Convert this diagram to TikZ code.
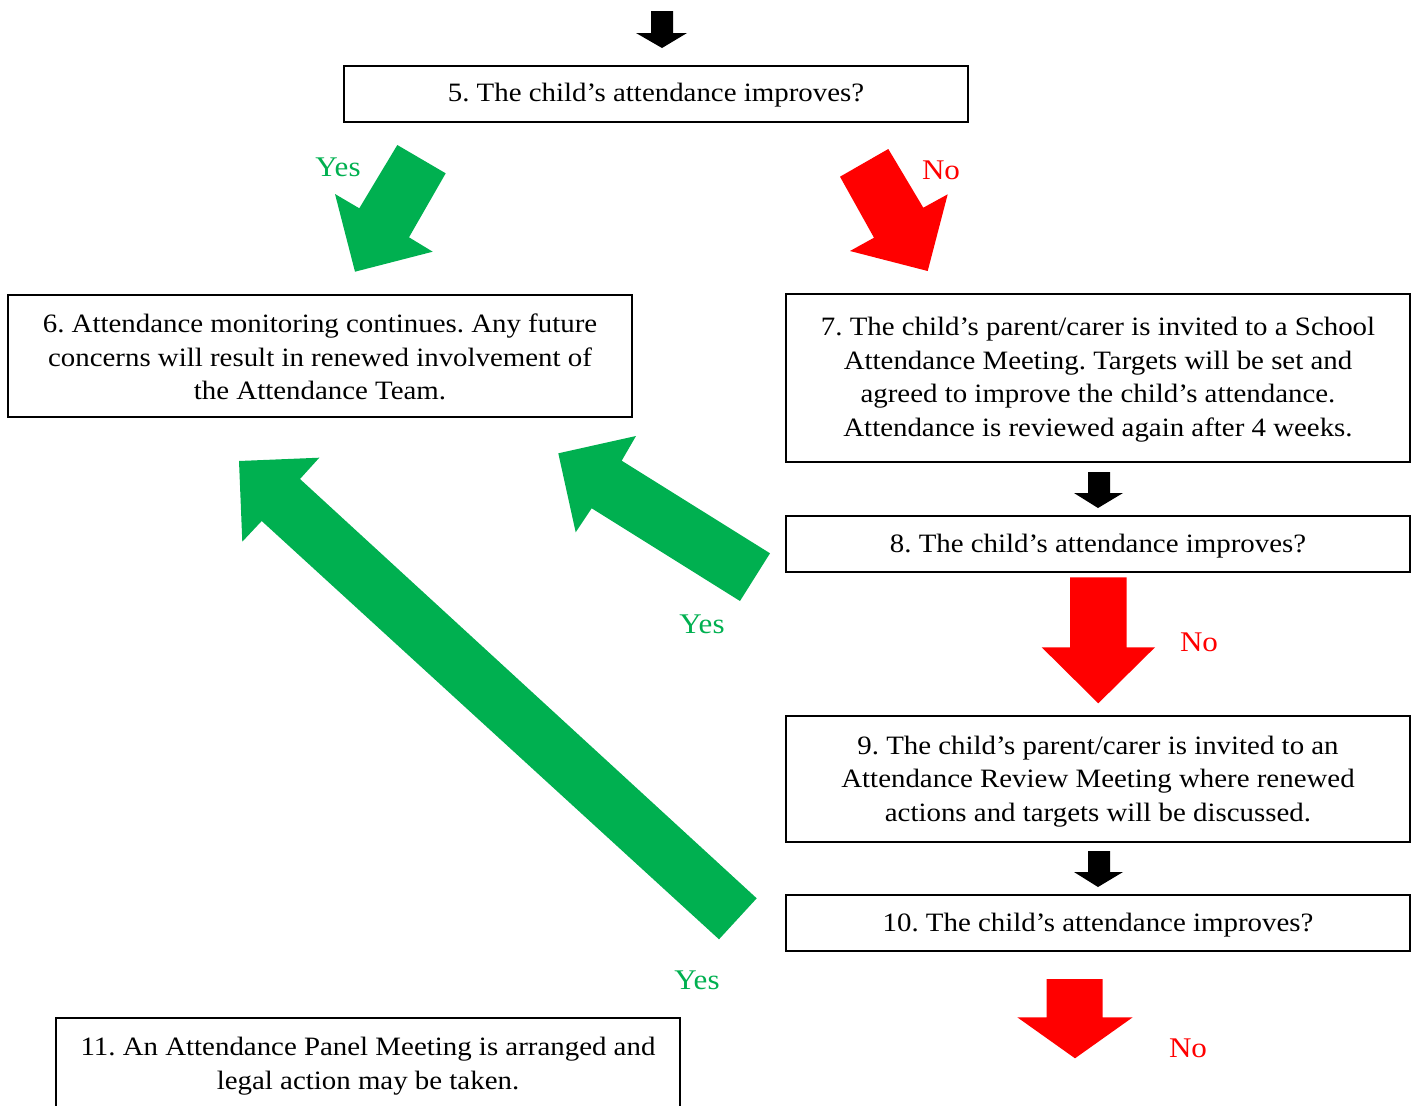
\documentclass[tikz,border=0pt]{standalone}
\usepackage{fontspec}
\setmainfont[FakeStretch=1.09]{Liberation Serif}
\definecolor{yesgreen}{HTML}{00B050}
\definecolor{nored}{HTML}{FF0000}
\begin{document}
\frenchspacing
\begin{tikzpicture}[x=1pt,y=-1pt,
  box/.style={draw=black,line width=1.2pt,minimum width=624pt,align=center,
    font=\fontsize{26.5}{33.5}\selectfont,inner sep=0pt},
  boxtext/.style={align=center,font=\fontsize{26.5}{33.5}\selectfont,inner sep=0pt},
  yeslbl/.style={text=yesgreen,font=\fontsize{28.5}{30}\selectfont},
  nolbl/.style={text=nored,font=\fontsize{28.5}{30}\selectfont},
  garrow/.style={fill=yesgreen,draw=none},
  rarrow/.style={fill=nored,draw=none},
  karrow/.style={fill=black,draw=none}]
\useasboundingbox (0,0) rectangle (1417,1106);
\clip (0,0) rectangle (1417,1106);

% boxes
\node[box,minimum height=56pt] (b5) at (656,94) {};
\node[boxtext] (t5) at (656,95.5) {5. The child’s attendance improves?};
\node[box,minimum height=122pt] (b6) at (320,356) {};
\node[boxtext] (t6) at (320,357) {6. Attendance monitoring continues. Any future\\concerns will result in renewed involvement of\\the Attendance Team.};
\node[box,minimum height=168pt] (b7) at (1098,378) {};
\node[boxtext] (t7) at (1098,379.5) {7. The child’s parent/carer is invited to a School\\Attendance Meeting. Targets will be set and\\agreed to improve the child’s attendance.\\Attendance is reviewed again after 4 weeks.};
\node[box,minimum height=56pt] (b8) at (1098,544) {};
\node[boxtext] (t8) at (1098,546.5) {8. The child’s attendance improves?};
\node[box,minimum height=126pt] (b9) at (1098,779) {};
\node[boxtext] (t9) at (1098,781.5) {9. The child’s parent/carer is invited to an\\Attendance Review Meeting where renewed\\actions and targets will be discussed.};
\node[box,minimum height=56pt] (b10) at (1098,923) {};
\node[boxtext] (t10) at (1098,925) {10. The child’s attendance improves?};
\draw[line width=1.2pt] (56,1120) |- (680,1018) -- (680,1120);
\node[boxtext] (b11) at (368,1066) {11. An Attendance Panel Meeting is arranged and\\legal action may be taken.};

% black down arrows
\fill[karrow] (651,11) -- (673,11) -- (673,33) -- (687,33) -- (662,48) -- (636,33) -- (651,33) -- cycle;
\fill[karrow] (1088,472) -- (1110,472) -- (1110,493) -- (1123,493) -- (1098,508) -- (1074,493) -- (1088,493) -- cycle;
\fill[karrow] (1088,851) -- (1110,851) -- (1110,872) -- (1123,872) -- (1098,887) -- (1074,872) -- (1088,872) -- cycle;

% green arrow 5 -> 6
\fill[garrow] (397.3,145) -- (445.7,173.3) -- (409,237.3) -- (432.7,251.7) -- (355,271.7) -- (335,194) -- (359.3,208.3) -- cycle;
\node[yeslbl] (y1) at (338,167) {Yes};

% red arrow 5 -> 7
\fill[rarrow] (840,176.7) -- (888.3,149) -- (923.3,207.7) -- (947.7,194.3) -- (927.7,271) -- (850,251) -- (874,237.7) -- cycle;
\node[nolbl] (n1) at (941,170) {No};

% green arrow 8 -> 6
\fill[garrow] (770,553.3) -- (740,601) -- (591.7,508.3) -- (575.7,532.3) -- (558.3,453.3) -- (636,436) -- (621.7,460.7) -- cycle;
\node[yeslbl] (y2) at (702,624) {Yes};

% red arrow 8 -> 9
\fill[rarrow] (1070,577.3) -- (1126.7,577.3) -- (1126.7,647.3) -- (1155,647.3) -- (1098.3,703.3) -- (1041.7,647.3) -- (1070,647.3) -- cycle;
\node[nolbl] (n2) at (1199,642) {No};

% green arrow 10 -> 6
\fill[garrow] (756.7,898.3) -- (719,939.3) -- (261.7,521) -- (242.3,541.7) -- (239,461) -- (319.3,457.7) -- (300,479) -- cycle;
\node[yeslbl] (y3) at (697,980) {Yes};

% red arrow 10 -> 11
\fill[rarrow] (1046.7,979) -- (1102.7,979) -- (1102.7,1017.3) -- (1132.7,1017.3) -- (1075,1058.3) -- (1017.3,1017.3) -- (1046.7,1017.3) -- cycle;
\node[nolbl] (n3) at (1188,1048) {No};
\end{tikzpicture}
\end{document}
